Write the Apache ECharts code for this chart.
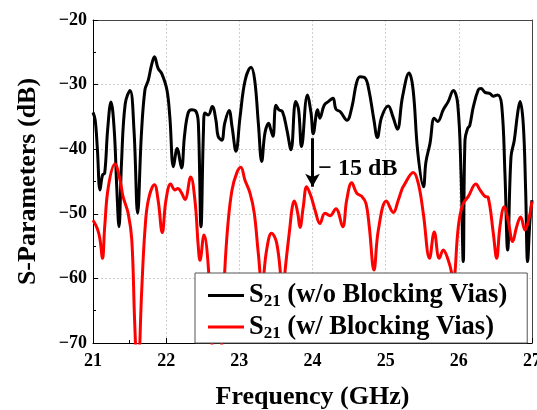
<!DOCTYPE html>
<html>
<head>
<meta charset="utf-8">
<script src="https://cdn.jsdelivr.net/npm/echarts@6/dist/echarts.min.js"></script>
<style>
html,body{margin:0;padding:0;background:#fff;}
#chart{width:537px;height:410px;}
</style>
</head>
<body>
<div id="chart"></div>
<script>
// Frequency (GHz) and S21 (dB)
var freqBlack = [21.00,21.03,21.06,21.096,21.13,21.16,21.20,21.246,21.29,21.325,21.355,21.39,21.44,21.506,21.56,21.61,21.66,21.71,21.756,21.80,21.84,21.89,21.94,22.01,22.05,22.10,22.15,22.21,22.25,22.30,22.35,22.41,22.44,22.476,22.51,22.53,22.576,22.63,22.68,22.71,22.76,22.80,22.86,22.90,22.954,23.01,23.08,23.16,23.21,23.26,23.306,23.35,23.40,23.43,23.46,23.50,23.54,23.59,23.65,23.706,23.77,23.81,23.85,23.93,23.98,24.01,24.07,24.10,24.16,24.22,24.28,24.32,24.38,24.47,24.54,24.60,24.65,24.72,24.77,24.84,24.886,24.945,25.035,25.10,25.16,25.23,25.32,25.375,25.44,25.517,25.55,25.606,25.664,25.711,25.787,25.856,25.924,25.984,26.03,26.06,26.084,26.12,26.15,26.197,26.266,26.303,26.357,26.426,26.471,26.53,26.586,26.63,26.667,26.713,26.758,26.804,26.836,26.88,26.913,26.94,26.972,27.00];
var dbBlack = [-34.3,-35.5,-40,-46.3,-44,-43.7,-37,-32.7,-37,-46,-52,-42,-33,-30.9,-37,-49.9,-38,-30.8,-29.3,-27,-25.7,-27.5,-28.3,-30.8,-35,-42.7,-39.9,-42.9,-38,-34.4,-33.9,-34.2,-36,-52,-37,-34.4,-34.7,-33.4,-35.5,-38,-38.6,-36,-34,-36.5,-40.3,-35,-29.3,-27.3,-29.3,-36,-41.9,-37.5,-36,-37,-38,-33.2,-33.9,-34.2,-37,-40.1,-32.6,-33.9,-39.6,-31.6,-34.4,-37.6,-33.9,-35.2,-33.2,-32.6,-32.1,-33.8,-34.2,-35.5,-33.4,-29.8,-28.8,-29,-30.8,-35.5,-38.2,-35,-33.3,-35,-36.9,-31.9,-28.2,-30.8,-40.6,-45.8,-42,-39.1,-35.2,-35.7,-33.9,-32.6,-30.9,-32.9,-43.7,-57.4,-38.6,-36.8,-36.3,-33.5,-30.8,-30.6,-31.2,-31.4,-31.8,-31.6,-33.2,-43.7,-55.6,-41.2,-38.6,-34.4,-32.6,-36,-46.3,-57.4,-51,-47.9];

var freqRed = [21.00,21.06,21.096,21.13,21.16,21.21,21.30,21.37,21.41,21.48,21.53,21.57,21.61,21.666,21.71,21.756,21.84,21.89,21.947,21.997,22.062,22.12,22.158,22.212,22.257,22.335,22.394,22.439,22.462,22.517,22.576,22.626,22.69,22.76,22.80,22.845,22.90,22.964,23.02,23.077,23.146,23.204,23.259,23.31,23.373,23.44,23.51,23.578,23.60,23.624,23.692,23.724,23.751,23.798,23.829,23.874,23.92,23.979,24.034,24.102,24.17,24.239,24.32,24.413,24.467,24.536,24.604,24.672,24.731,24.776,24.84,24.90,25.01,25.104,25.172,25.219,25.24,25.378,25.446,25.514,25.60,25.664,25.733,25.787,25.856,25.902,25.927,25.947,25.993,26.053,26.13,26.234,26.289,26.357,26.402,26.471,26.517,26.562,26.621,26.676,26.736,26.79,26.845,26.904,26.963,27.00];
var dbRed = [-51,-52.3,-54,-56.9,-52,-45.8,-42.3,-44.8,-47.3,-49.9,-54,-66.9,-76,-61.8,-52.5,-47.9,-45.5,-47.9,-52.9,-47.9,-45.4,-46.3,-46.1,-46.8,-47.8,-44.3,-48,-55.1,-57.2,-53.3,-58.2,-70,-78,-70,-59,-51.5,-46.3,-43.7,-42.8,-44.8,-46.8,-49.9,-56.1,-61,-55.6,-53,-54.5,-61,-63,-59,-52,-48.9,-48,-49.9,-52.1,-48.9,-45.8,-47.3,-49.4,-51.5,-49.9,-50.3,-49.2,-52,-47.9,-45.2,-46.8,-47.3,-48.4,-52,-58.7,-52.5,-48,-49.8,-47.9,-46.3,-45.8,-43.6,-45.3,-49.9,-56.9,-52.8,-56.9,-55.6,-57.2,-59.2,-61.5,-59.2,-52,-48.6,-47.3,-45.4,-46.3,-47.3,-47.5,-53,-56.9,-52,-48.9,-51.2,-54.3,-52,-50.5,-52.5,-50.5,-48.1];

var seriesNames = ['S21 (w/o Blocking Vias)', 'S21 (w/ Blocking Vias)'];
var arrowFrom = [24.0, -38.3];
var arrowTo = [24.0, -45.8];
var noteAt = [24.08, -43.1];
var noteText = '\u2212 15 dB';

function pairs(xs, ys) { return xs.map(function (x, i) { return [x, ys[i]]; }); }

var FONT = '"Liberation Serif","Times New Roman",serif';
var chart = echarts.init(document.getElementById('chart'), null, {renderer: 'canvas'});

chart.setOption({
  animation: false,
  backgroundColor: '#fff',
  grid: {left: 93, right: 5, top: 20, bottom: 67, containLabel: false, outerBoundsMode: 'none'},
  legend: {
    orient: 'vertical',
    left: 195, top: 273,
    padding: [9, 20, 1, 13],
    itemGap: 3,
    itemWidth: 36, itemHeight: 3,
    icon: 'rect',
    backgroundColor: '#fff',
    borderColor: '#555', borderWidth: 1,
    data: seriesNames,
    formatter: function (n) { return '{m|S}{s|21}{m|' + n.slice(3) + '}'; },
    textStyle: {
      fontFamily: FONT, fontWeight: 'bold', color: '#000', fontSize: 26,
      rich: {
        m: {fontFamily: FONT, fontWeight: 'bold', fontSize: 26.5, lineHeight: 30, color: '#000'},
        s: {fontFamily: FONT, fontWeight: 'bold', fontSize: 17, lineHeight: 30, verticalAlign: 'bottom', color: '#000'}
      }
    }
  },
  xAxis: [{
    type: 'value', min: 21, max: 27, interval: 1,
    name: 'Frequency (GHz)', nameLocation: 'middle', nameGap: 41,
    nameTextStyle: {fontFamily: FONT, fontWeight: 'bold', fontSize: 26, color: '#000'},
    axisLine: {show: true, onZero: false, lineStyle: {color: '#000', width: 1}},
    axisTick: {show: true, inside: true, length: 5, lineStyle: {color: '#000'}},
    minorTick: {show: true, splitNumber: 2, length: 3, lineStyle: {color: '#000'}},
    axisLabel: {fontFamily: FONT, fontWeight: 'bold', fontSize: 18, color: '#000', margin: 9},
    splitLine: {show: true, lineStyle: {color: '#d0d0d0', type: [2, 2], width: 1}}
  }, {
    type: 'value', position: 'top', min: 21, max: 27,
    axisLine: {show: true, onZero: false, lineStyle: {color: '#444', width: 1}},
    axisTick: {show: false}, axisLabel: {show: false}, splitLine: {show: false}
  }],
  yAxis: [{
    type: 'value', min: -70, max: -20, interval: 10,
    name: 'S-Parameters (dB)', nameLocation: 'middle', nameGap: 52,
    nameTextStyle: {fontFamily: FONT, fontWeight: 'bold', fontSize: 26, color: '#000'},
    axisLine: {show: true, onZero: false, lineStyle: {color: '#000', width: 1}},
    axisTick: {show: true, inside: true, length: 5, lineStyle: {color: '#000'}},
    minorTick: {show: true, splitNumber: 2, length: 3, lineStyle: {color: '#000'}},
    axisLabel: {fontFamily: FONT, fontWeight: 'bold', fontSize: 18, color: '#000', margin: 6,
      formatter: function (v) { return v < 0 ? '\u2212' + Math.abs(v) : String(v); }},
    splitLine: {show: true, lineStyle: {color: '#d0d0d0', type: [2, 2], width: 1}}
  }, {
    type: 'value', position: 'right', min: -70, max: -20,
    axisLine: {show: true, onZero: false, lineStyle: {color: '#444', width: 1}},
    axisTick: {show: false}, axisLabel: {show: false}, splitLine: {show: false}
  }],
  series: [{
    name: seriesNames[0], type: 'line', data: pairs(freqBlack, dbBlack),
    showSymbol: false, symbol: 'none', smooth: 0.4,
    lineStyle: {color: '#000', width: 3, join: 'round'}, itemStyle: {color: '#000'}, z: 2,
    markLine: {
      silent: true, animation: false,
      symbol: ['none', 'arrow'], symbolSize: [11, 13],
      lineStyle: {color: '#000', width: 3, type: 'solid'},
      label: {show: false},
      data: [[{coord: arrowFrom}, {coord: arrowTo}]]
    },
    markPoint: {
      silent: true, animation: false,
      symbol: 'circle', symbolSize: 0,
      label: {show: true, position: 'right', distance: 0, formatter: noteText,
        fontFamily: FONT, fontWeight: 'bold', fontSize: 24, color: '#000'},
      data: [{coord: noteAt}]
    }
  }, {
    name: seriesNames[1], type: 'line', data: pairs(freqRed, dbRed),
    showSymbol: false, symbol: 'none', smooth: 0.4,
    lineStyle: {color: '#ff0000', width: 3, join: 'round'}, itemStyle: {color: '#ff0000'}, z: 3
  }]
});
</script>
</body>
</html>
